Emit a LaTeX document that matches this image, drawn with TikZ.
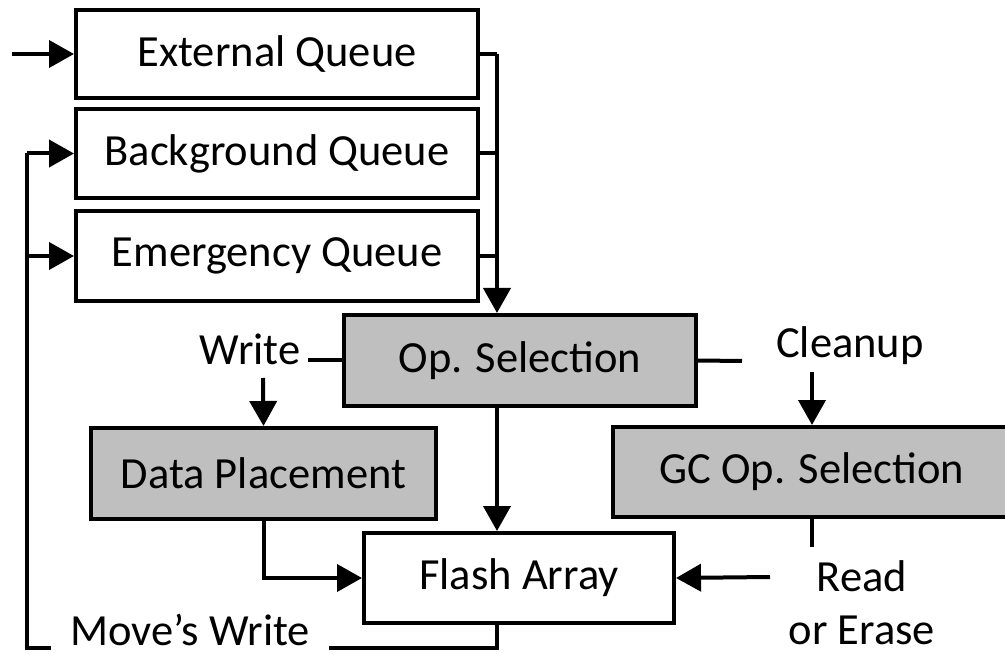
\documentclass[tikz,border=0pt]{standalone}
\usepackage{fontspec}
\setmainfont{Carlito}
\usetikzlibrary{arrows.meta,calc}
\definecolor{boxgray}{HTML}{BFBFBF}
\begin{document}
\begin{tikzpicture}[x=1pt,y=-1pt,line width=4pt,
  every node/.style={font=\fontsize{44.5}{52}\selectfont},
  box/.style={draw,line width=4pt,inner sep=0pt,fill=white},
  gbox/.style={box,fill=boxgray},
  lbl/.style={inner sep=0pt,anchor=base,text depth=0pt},
  arr/.style={-{Triangle[length=25pt,width=27pt]}}]
\useasboundingbox (0,0) rectangle (1005,655);
% queues
\node[box,minimum width=402pt,minimum height=88pt] (ext) at (277,54) {External Queue};
\node[box,minimum width=402pt,minimum height=89pt] (bg) at (277,153.5) {Background Queue};
\node[box,minimum width=402pt,minimum height=90pt] (em) at (277,256) {Emergency Queue};
% processing boxes
\node[gbox,minimum width=352pt,minimum height=91pt] (opsel) at (520,360.5) {Op. Selection};
\node[gbox,minimum width=345pt,minimum height=91pt] (dp) at (263.5,473.5) {Data Placement};
\node[box,minimum width=310pt,minimum height=90pt] (flash) at (519,578) {Flash Array};
\node[gbox,minimum width=398pt,minimum height=90pt] (gc) at (812,472) {GC Op. Selection};
% labels
\node[lbl,inner xsep=6pt] (write) at (250,364) {Write};
\node[lbl] (cleanup) at (850,358) {Cleanup};
\node[lbl] (read) at (862,591) {Read};
\node[lbl] (erase) at (862,644) {or Erase};
\node[lbl,inner xsep=17pt] (mw) at (190,645) {Move’s Write};
% helper coordinates
\coordinate (in) at (12,54);
\coordinate (bus) at (497,54);
\coordinate (loop) at (27,648);
\coordinate (wd) at (263,378);
\coordinate (cl) at (742,361);
\coordinate (cd) at (812,372);
\coordinate (gd) at (812,547);
\coordinate (rd) at (770,577);
% connectors
\draw[arr] (in) -- (ext.west);
\draw (ext.east) -- (bus);
\draw (bg.east) -- (bus |- bg.east);
\draw (em.east) -- (bus |- em.east);
\draw[arr] (bus) -- (bus |- opsel.north);
\draw[arr] (bus |- opsel.south) -- (bus |- flash.north);
\draw (bus |- flash.south) -- (bus |- loop) -- (mw.east |- loop);
\draw (mw.west |- loop) -- (loop) -- (loop |- bg.west);
\draw[arr] (loop |- bg.west) -- (bg.west);
\draw[arr] (loop |- em.west) -- (em.west);
\draw (write.east |- opsel.west) -- (opsel.west);
\draw[arr] (wd) -- (dp.north);
\draw[arr] (dp.south) |- (flash.west);
\draw (opsel.east) -- (cl);
\draw[arr] (cd) -- (gc.north);
\draw (gc.south -| gd) -- (gd);
\draw[arr] (rd) -- (flash.east);
\end{tikzpicture}
\end{document}
